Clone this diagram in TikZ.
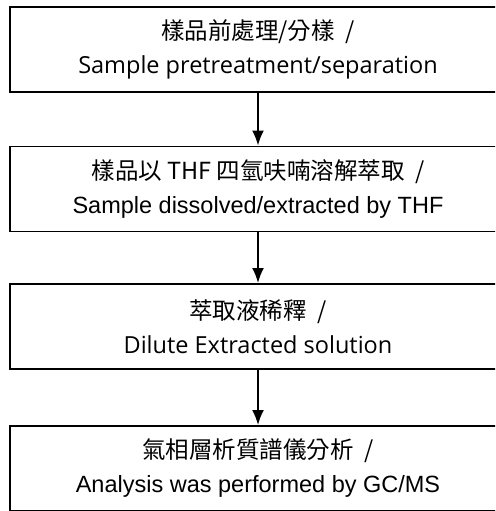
\documentclass[tikz,border=0pt]{standalone}
\usepackage{fontspec}
\setmainfont{Liberation Sans}
\newfontfamily\cjk{Noto Sans CJK TC}
\newfontfamily\osans{Open Sans}
\usetikzlibrary{arrows.meta}
\tikzset{stepbox/.style={draw,line width=1.9pt,minimum width=496pt,minimum height=85pt,
  align=center,inner sep=0pt,font=\fontsize{23.5}{34}\selectfont}}
\begin{document}
\begin{tikzpicture}[x=1pt,y=-1pt,>={Latex[length=15pt,width=12pt]}]
\useasboundingbox (0,0) rectangle (495,511);
\clip (0,0) rectangle (495,511);
\node[stepbox] (prep) at (258,49.5) {{\cjk 樣品前處理/分樣\ \ /}\\{\osans Sample pretreatment/separation}};
\node[stepbox] (diss) at (258,189) {{\cjk 樣品以 THF 四氫呋喃溶解萃取\ \ /}\\Sample dissolved/extracted by THF};
\node[stepbox] (dil) at (258,326.5) {{\cjk 萃取液稀釋\ \ /}\\{\osans Dilute Extracted solution}};
\node[stepbox] (gcms) at (258,468.5) {{\cjk 氣相層析質譜儀分析\ \ /}\\Analysis was performed by GC/MS};
\draw[->,line width=1.9pt] (prep)--(diss);
\draw[->,line width=1.9pt] (diss)--(dil);
\draw[->,line width=1.9pt] (dil)--(gcms);

\end{tikzpicture}
\end{document}
